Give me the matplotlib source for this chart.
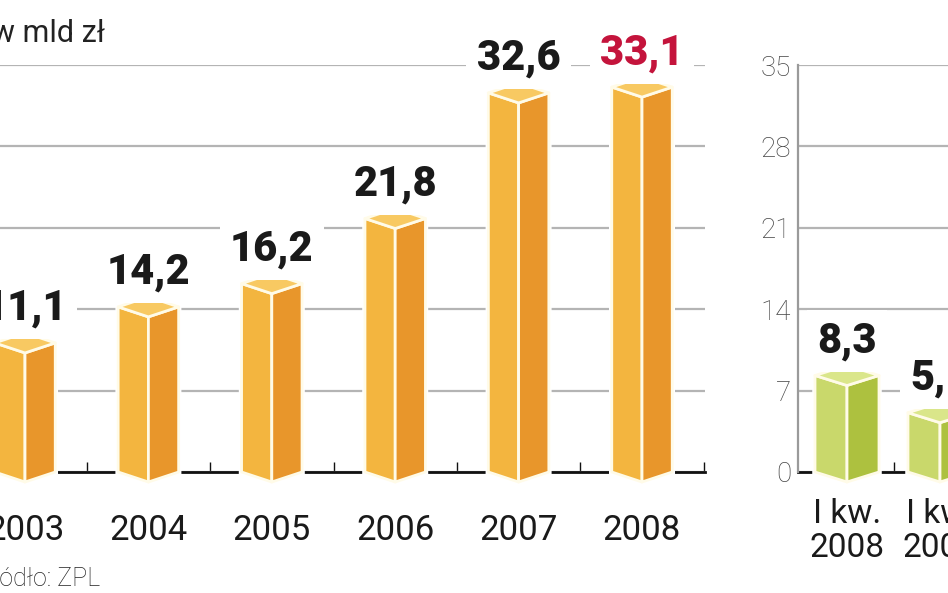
import matplotlib
matplotlib.use("Agg")
import matplotlib.pyplot as plt
from matplotlib.patches import Polygon

# data
years = ["2003", "2004", "2005", "2006", "2007", "2008"]
annual = [11.1, 14.2, 16.2, 21.8, 32.6, 33.1]
annual_labels = ["11,1", "14,2", "16,2", "21,8", "32,6", "33,1"]
annual_label_colors = ["#1a1a1a"] * 5 + ["#c4143c"]
quarters = ["I kw.\n2008", "I kw.\n2009"]
quarterly = [8.3, 5.1]
quarterly_labels = ["8,3", "5,1"]
y_ticks = [0, 7, 14, 21, 28, 35]

W, H = 948, 593
plt.rcParams['font.family'] = ['Roboto', 'DejaVu Sans']

fig = plt.figure(figsize=(W / 100, H / 100), dpi=100)


def px_box(x0, x1, y_top, y_bot):
    # axes rectangle from pixel edges
    return [x0 / W, 1 - y_bot / H, (x1 - x0) / W, (y_bot - y_top) / H]


ax1 = fig.add_axes(px_box(0, 705, 65, 472))
ax2 = fig.add_axes(px_box(798, 948, 65, 472))

px_unit = 35 / 407          # data units per pixel on the value axis
depth = 10 * px_unit        # vertical offset of the box corners
label_gap = 23 * px_unit


def draw_box(ax, c, v, hw, front, side, top):
    d = depth
    outline = [(c - hw, 0), (c, -d), (c + hw, 0), (c + hw, v), (c, v + d), (c - hw, v)]
    ax.add_patch(Polygon(outline, closed=True, fc="white", ec="white", lw=4,
                         zorder=3, clip_on=False))
    faces = [
        ([(c - hw, 0), (c, -d), (c, v - d), (c - hw, v)], front),
        ([(c, -d), (c + hw, 0), (c + hw, v), (c, v - d)], side),
        ([(c - hw, v), (c, v - d), (c + hw, v), (c, v + d)], top),
    ]
    for pts, col in faces:
        ax.add_patch(Polygon(pts, closed=True, fc=col, ec="#fffbe8", lw=2.0,
                             zorder=4, clip_on=False, joinstyle="round"))


def style_axis(ax, n, xlim, minor):
    ax.set_xlim(*xlim)
    ax.set_ylim(0, 35)
    ax.set_yticks(y_ticks)
    ax.yaxis.grid(True, color="#b4b4b4", lw=1.6)
    ax.set_axisbelow(True)
    for s in ["top", "right", "left"]:
        ax.spines[s].set_visible(False)
    ax.spines["bottom"].set_color("#111111")
    ax.spines["bottom"].set_linewidth(2)
    ax.spines["bottom"].set_zorder(2)
    ax.set_xticks(range(n))
    ax.set_xticks(minor, minor=True)
    ax.tick_params(axis="x", which="minor", direction="in", length=7, width=1,
                   color="#111111")
    ax.tick_params(axis="x", which="major", length=0)


# left panel: annual values
style_axis(ax1, len(years), (-25 / 123.4, 680 / 123.4),
           [0.5, 1.5, 2.5, 3.5, 4.5, 680 / 123.4 - 0.005])
ax1.set_xticklabels(years, fontsize=25, color="#1a1a1a")
ax1.tick_params(axis="x", which="major", pad=30)
ax1.tick_params(axis="y", length=0, labelleft=False)
for i, (v, lbl, col) in enumerate(zip(annual, annual_labels, annual_label_colors)):
    draw_box(ax1, i, v, 0.245, "#f3b53f", "#e8962b", "#f8c962")
    ax1.text(i, v + label_gap, lbl, ha="center", va="baseline", fontsize=30,
             fontweight="heavy", color=col, zorder=5, clip_on=False,
             bbox=dict(boxstyle="square,pad=0.25", fc="white", ec="none"))

# right panel: first quarters
style_axis(ax2, len(quarters), (-49 / 93, 101 / 93), [0.5])
ax2.spines["left"].set_visible(True)
ax2.spines["left"].set_color("#9a9a9a")
ax2.spines["left"].set_linewidth(1.6)
ax2.set_xticklabels(quarters, fontsize=24, color="#1a1a1a", linespacing=1.05)
ax2.tick_params(axis="x", which="major", pad=19)
ax2.tick_params(axis="y", length=0, pad=5, labelsize=20, labelcolor="#444444")
for t in ax2.get_yticklabels():
    t.set_fontweight("light")
for i, (v, lbl) in enumerate(zip(quarterly, quarterly_labels)):
    draw_box(ax2, i, v, 0.344, "#c9d86b", "#adc13f", "#dae68a")
    ax2.text(i, v + label_gap, lbl, ha="center", va="baseline", fontsize=30,
             fontweight="heavy", color="#1a1a1a", zorder=5, clip_on=False,
             bbox=dict(boxstyle="square,pad=0.25", fc="white", ec="none"))

fig.text(-8 / W, 1 - 42 / H, "w mld zł", fontsize=22, color="#222222")
fig.text(-24 / W, 1 - 586 / H, "Źródło: ZPL", fontsize=18, color="#222222",
         fontweight="light")

fig.savefig("out.png", dpi=100)
